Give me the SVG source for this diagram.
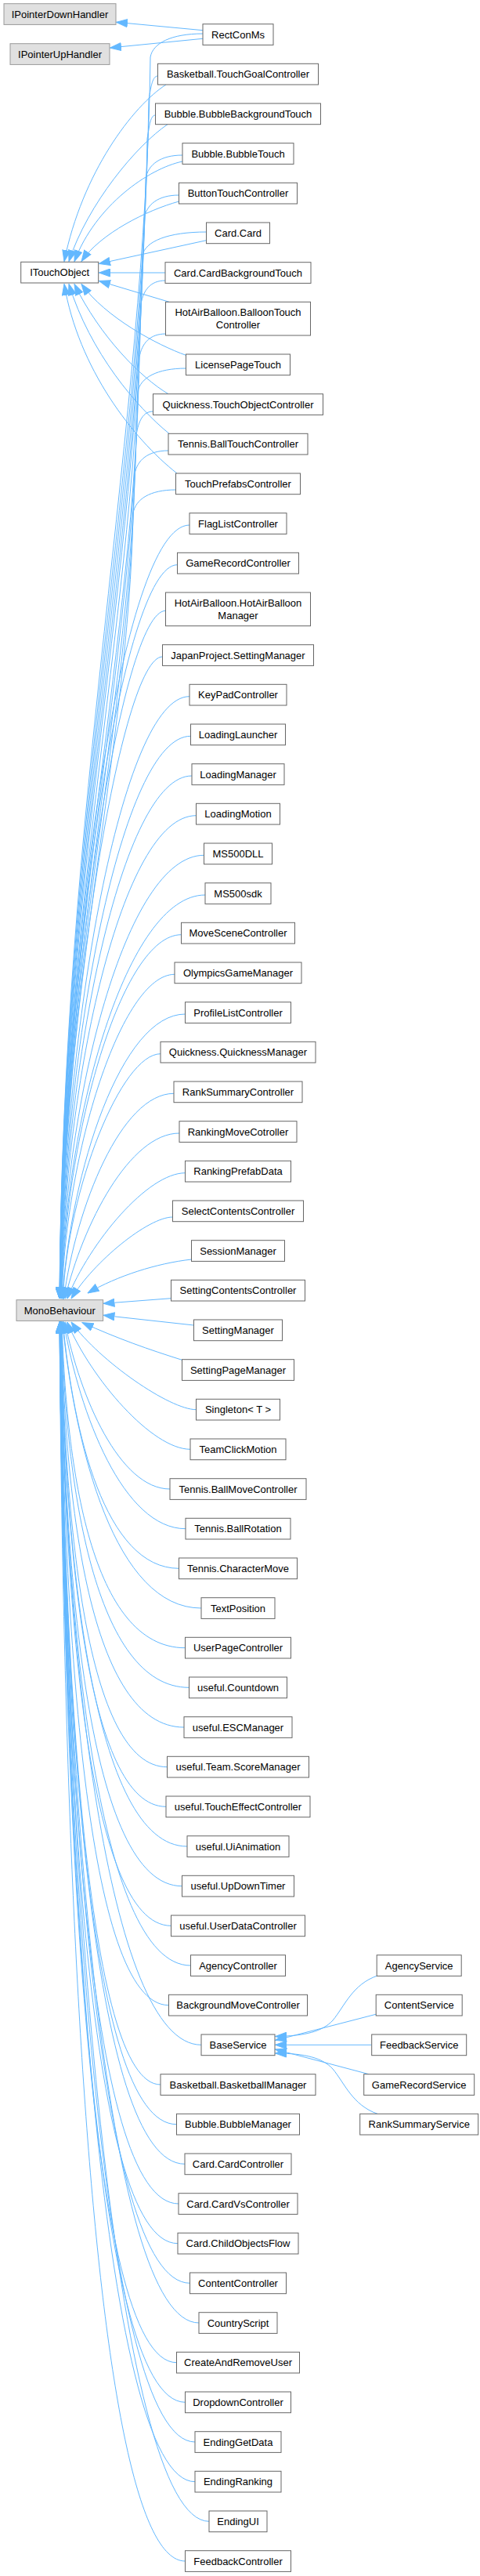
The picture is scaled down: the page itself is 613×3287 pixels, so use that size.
<svg xmlns="http://www.w3.org/2000/svg" width="613" height="3287" viewBox="0 0 613 3287">
<style>
.n rect{fill:#ffffff;stroke:#666666;stroke-width:1}
.x rect{fill:#e0e0e0;stroke:#999999;stroke-width:1}
text{font-family:"Liberation Sans",Arial,Helvetica,sans-serif;font-size:13px;text-anchor:middle;fill:#000000}
#edges path{fill:none;stroke:#63b8ff;stroke-width:1;marker-end:url(#ah)}
</style>
<defs>
<marker id="ah" viewBox="0 0 15 11" refX="14.5" refY="5.5" markerWidth="15" markerHeight="11" markerUnits="userSpaceOnUse" orient="auto">
<path d="M0.5,0.5 L14.5,5.5 L0.5,10.5 Z" fill="#63b8ff" stroke="#63b8ff" stroke-width="1"/>
</marker>
</defs>
<rect x="0" y="0" width="613" height="3287" fill="#ffffff"/>
<g id="edges">
<path d="M259,38.7 L148.5,28.3"/>
<path d="M259,49.3 L140.5,61"/>
<path d="M259,43 C218.8,43 195,55 192,73 C186,548 80,1023 76,1657"/>
<path d="M201.5,97 C194.9,97 193,109 190,127 C184,586 80,1045 76,1657"/>
<path d="M198.5,147 C192.2,147 191,159 188,177 C182,621 80,1065 76.1,1657"/>
<path d="M233,198 C204.8,198 189,210 186,228 C180,657 80,1085 76.2,1657"/>
<path d="M228.5,249 C201.8,249 187,261 184,279 C178,692 80,1106 76.2,1657"/>
<path d="M263.5,296 C214.4,296 185,308 182,326 C176,725 80,1125 76.2,1657"/>
<path d="M211,358 C192.4,358 183,370 180,388 C174,769 80,1149 76.3,1657"/>
<path d="M211.5,426 C191.4,426 181,438 178,456 C172,816 80,1177 76.3,1657"/>
<path d="M237.5,470 C200.6,470 179,482 176,500 C170,847 80,1194 76.4,1657"/>
<path d="M195.5,525 C182.6,525 177,537 174,555 C168,886 80,1216 76.5,1657"/>
<path d="M215,575 C189.2,575 175,587 172,605 C166,921 80,1236 76.5,1657"/>
<path d="M224.5,625 C191.3,625 173,637 170,655 C164,956 80,1256 76.6,1657"/>
<path d="M212,108 C170,135 105,220 82,333.5"/>
<path d="M214,158.7 C175,185 112,260 88,333.5"/>
<path d="M233,206 C190,215 122,262 95,333.5"/>
<path d="M228.5,257 C188,268 128,298 104,333.5"/>
<path d="M263.5,306.7 L126.5,336.5"/>
<path d="M211,348 L126.5,348"/>
<path d="M216,385.3 L126.5,358.5"/>
<path d="M238,453.5 C200,440 135,405 104,362.5"/>
<path d="M215,502.7 C180,482 128,430 95,362.5"/>
<path d="M216,553.3 C175,520 115,450 88,362.5"/>
<path d="M226,604 C170,560 100,470 82,362.5"/>
<path d="M242,670 C155,670 81.7,1213 76.7,1657"/>
<path d="M226.5,720.7 C155,720.7 81.8,1236 76.8,1657"/>
<path d="M211.5,779.3 C155,779.3 81.9,1262 76.9,1657"/>
<path d="M207.5,838 C155,838 82,1288 77,1657"/>
<path d="M242,888.7 C155,888.7 82.1,1311 77.1,1657"/>
<path d="M243.5,939.3 C155,939.3 82.3,1334 77.3,1657"/>
<path d="M245,990 C155,990 82.5,1357 77.5,1657"/>
<path d="M250.5,1040.7 C155,1040.7 82.7,1380 77.7,1657"/>
<path d="M260.5,1091.3 C160.5,1091.3 82.9,1402 77.9,1657"/>
<path d="M262,1142 C162,1142 83.2,1425 78.2,1657"/>
<path d="M231.5,1192.7 C155,1192.7 83.6,1448 78.6,1657"/>
<path d="M223,1243.3 C155,1243.3 84,1471 79,1657"/>
<path d="M236.5,1294 C155,1294 90.3,1494 79.6,1657"/>
<path d="M205,1344.7 C155,1344.7 86.5,1516 80.3,1657"/>
<path d="M222,1395.3 C155,1395.3 97.4,1539 81.4,1657"/>
<path d="M229,1446 C165.7,1446 105.7,1562 83,1657"/>
<path d="M236.5,1496.7 C188.5,1496.7 114.9,1585 85.7,1657"/>
<path d="M220.5,1553 C189.3,1553 119.5,1610 91,1657"/>
<path d="M244.5,1607 C200,1612 150,1628 112,1650"/>
<path d="M218.5,1656.7 L132,1663.3"/>
<path d="M247.5,1691 L132,1678.3"/>
<path d="M233,1735.5 C190,1722 150,1708 105,1687.5"/>
<path d="M250.5,1798.7 C217,1798.7 127.7,1737.3 91,1687"/>
<path d="M243,1849.3 C194.3,1849.3 116.7,1760 85.7,1687"/>
<path d="M217,1900 C153.1,1900 101.9,1783 83,1687"/>
<path d="M237,1950.7 C157.9,1950.7 101.7,1805.7 81.4,1687"/>
<path d="M228.5,2001.3 C134.2,2001.3 93.3,1828.4 80.3,1687"/>
<path d="M257,2052 C147.5,2052 96.3,1851.3 79.6,1687"/>
<path d="M236.5,2102.7 C116.5,2102.7 84.7,1874 79,1687"/>
<path d="M241.5,2153.3 C121.5,2153.3 83.6,1896.8 78.6,1687"/>
<path d="M235,2204 C115,2204 83.2,1919.7 78.2,1687"/>
<path d="M213.5,2254.7 C110,2254.7 82.9,1942.5 77.9,1687"/>
<path d="M212,2305.3 C110,2305.3 82.7,1965.2 77.7,1687"/>
<path d="M239,2356 C119,2356 82.5,1988 77.5,1687"/>
<path d="M232.5,2406.7 C112.5,2406.7 82.3,2010.9 77.3,1687"/>
<path d="M218.5,2457.3 C110,2457.3 82.1,2033.6 77.1,1687"/>
<path d="M243.5,2508 C123.5,2508 82,2056.5 77,1687"/>
<path d="M215.5,2558.7 C110,2558.7 81.9,2079.3 76.9,1687"/>
<path d="M257,2609.3 C137,2609.3 81.8,2102 76.8,1687"/>
<path d="M205,2660 C110,2660 81.7,2124.9 76.7,1687"/>
<path d="M225.5,2710.7 C110,2710.7 81.6,2147.7 76.6,1687"/>
<path d="M236,2761.3 C116,2761.3 81.5,2170.4 76.5,1687"/>
<path d="M228,2812 C110,2812 81.5,2193 76.5,1687"/>
<path d="M227,2862.7 C110,2862.7 81.4,2216 76.4,1687"/>
<path d="M242.5,2913.3 C122.5,2913.3 81.3,2238.8 76.3,1687"/>
<path d="M254,2964 C134,2964 81.3,2261.7 76.3,1687"/>
<path d="M225.5,3014.7 C110,3014.7 81.2,2284.5 76.2,1687"/>
<path d="M236.5,3065.3 C116.5,3065.3 81.2,2307 76.2,1687"/>
<path d="M249,3116 C129,3116 81.1,2330 76.1,1687"/>
<path d="M249,3166.7 C129,3166.7 81.1,2352.9 76.1,1687"/>
<path d="M267,3217.3 C147,3217.3 81.1,2375.6 76.1,1687"/>
<path d="M236.5,3268 C116.5,3268 81,2398.5 76,1687"/>
<path d="M482,2521 C450,2532 440,2560 425,2578 C412,2592 390,2598 351.5,2598.5"/>
<path d="M481,2570 L351.5,2603.5"/>
<path d="M474.6,2609.3 L351.5,2609.3"/>
<path d="M471,2646.7 L351.5,2615"/>
<path d="M482,2697.3 C450,2686 440,2658 425,2640 C412,2626 390,2620 351.5,2620"/>
</g>
<g id="IPointerDownHandler" class="x"><rect x="5" y="4.7" width="143" height="26.7"/><text x="76.5" y="22.7">IPointerDownHandler</text></g>
<g id="IPointerUpHandler" class="x"><rect x="13" y="55.7" width="127" height="26.7"/><text x="76.5" y="73.7">IPointerUpHandler</text></g>
<g id="ITouchObject" class="n"><rect x="26.7" y="334.3" width="99" height="26.7"/><text x="76.2" y="352.3">ITouchObject</text></g>
<g id="MonoBehaviour" class="x"><rect x="21" y="1658.7" width="110.6" height="26.7"/><text x="76.3" y="1676.7">MonoBehaviour</text></g>
<g id="n1" class="n" transform="translate(304,30.7)"><rect x="-45" y="0" width="90" height="26.7"/><text x="0" y="18">RectConMs</text></g>
<g id="n2" class="n" transform="translate(304,81.3)"><rect x="-102.5" y="0" width="205" height="26.7"/><text x="0" y="18">Basketball.TouchGoalController</text></g>
<g id="n3" class="n" transform="translate(304,132)"><rect x="-105.5" y="0" width="211" height="26.7"/><text x="0" y="18">Bubble.BubbleBackgroundTouch</text></g>
<g id="n4" class="n" transform="translate(304,182.7)"><rect x="-71" y="0" width="142" height="26.7"/><text x="0" y="18">Bubble.BubbleTouch</text></g>
<g id="n5" class="n" transform="translate(304,233.3)"><rect x="-75.5" y="0" width="151" height="26.7"/><text x="0" y="18">ButtonTouchController</text></g>
<g id="n6" class="n" transform="translate(304,284)"><rect x="-40.5" y="0" width="81" height="26.7"/><text x="0" y="18">Card.Card</text></g>
<g id="n7" class="n" transform="translate(304,334.7)"><rect x="-93" y="0" width="186" height="26.7"/><text x="0" y="18">Card.CardBackgroundTouch</text></g>
<g id="n8" class="n" transform="translate(304,385.3)"><rect x="-92.5" y="0" width="185" height="42.7"/><text x="0" y="17.5">HotAirBalloon.BalloonTouch</text><text x="0" y="33.5">Controller</text></g>
<g id="n9" class="n" transform="translate(304,452)"><rect x="-66.5" y="0" width="133" height="26.7"/><text x="0" y="18">LicensePageTouch</text></g>
<g id="n10" class="n" transform="translate(304,502.7)"><rect x="-108.5" y="0" width="217" height="26.7"/><text x="0" y="18">Quickness.TouchObjectController</text></g>
<g id="n11" class="n" transform="translate(304,553.3)"><rect x="-89" y="0" width="178" height="26.7"/><text x="0" y="18">Tennis.BallTouchController</text></g>
<g id="n12" class="n" transform="translate(304,604)"><rect x="-79.5" y="0" width="159" height="26.7"/><text x="0" y="18">TouchPrefabsController</text></g>
<g id="n13" class="n" transform="translate(304,654.7)"><rect x="-62" y="0" width="124" height="26.7"/><text x="0" y="18">FlagListController</text></g>
<g id="n14" class="n" transform="translate(304,705.3)"><rect x="-77.5" y="0" width="155" height="26.7"/><text x="0" y="18">GameRecordController</text></g>
<g id="n15" class="n" transform="translate(304,756)"><rect x="-92.5" y="0" width="185" height="42.7"/><text x="0" y="17.5">HotAirBalloon.HotAirBalloon</text><text x="0" y="33.5">Manager</text></g>
<g id="n16" class="n" transform="translate(304,822.7)"><rect x="-96.5" y="0" width="193" height="26.7"/><text x="0" y="18">JapanProject.SettingManager</text></g>
<g id="n17" class="n" transform="translate(304,873.3)"><rect x="-62" y="0" width="124" height="26.7"/><text x="0" y="18">KeyPadController</text></g>
<g id="n18" class="n" transform="translate(304,924)"><rect x="-60.5" y="0" width="121" height="26.7"/><text x="0" y="18">LoadingLauncher</text></g>
<g id="n19" class="n" transform="translate(304,974.7)"><rect x="-59" y="0" width="118" height="26.7"/><text x="0" y="18">LoadingManager</text></g>
<g id="n20" class="n" transform="translate(304,1025.3)"><rect x="-53.5" y="0" width="107" height="26.7"/><text x="0" y="18">LoadingMotion</text></g>
<g id="n21" class="n" transform="translate(304,1076)"><rect x="-43.5" y="0" width="87" height="26.7"/><text x="0" y="18">MS500DLL</text></g>
<g id="n22" class="n" transform="translate(304,1126.7)"><rect x="-42" y="0" width="84" height="26.7"/><text x="0" y="18">MS500sdk</text></g>
<g id="n23" class="n" transform="translate(304,1177.3)"><rect x="-72.5" y="0" width="145" height="26.7"/><text x="0" y="18">MoveSceneController</text></g>
<g id="n24" class="n" transform="translate(304,1228)"><rect x="-81" y="0" width="162" height="26.7"/><text x="0" y="18">OlympicsGameManager</text></g>
<g id="n25" class="n" transform="translate(304,1278.7)"><rect x="-67.5" y="0" width="135" height="26.7"/><text x="0" y="18">ProfileListController</text></g>
<g id="n26" class="n" transform="translate(304,1329.3)"><rect x="-99" y="0" width="198" height="26.7"/><text x="0" y="18">Quickness.QuicknessManager</text></g>
<g id="n27" class="n" transform="translate(304,1380)"><rect x="-82" y="0" width="164" height="26.7"/><text x="0" y="18">RankSummaryController</text></g>
<g id="n28" class="n" transform="translate(304,1430.7)"><rect x="-75" y="0" width="150" height="26.7"/><text x="0" y="18">RankingMoveCotroller</text></g>
<g id="n29" class="n" transform="translate(304,1481.3)"><rect x="-67.5" y="0" width="135" height="26.7"/><text x="0" y="18">RankingPrefabData</text></g>
<g id="n30" class="n" transform="translate(304,1532)"><rect x="-83.5" y="0" width="167" height="26.7"/><text x="0" y="18">SelectContentsController</text></g>
<g id="n31" class="n" transform="translate(304,1582.7)"><rect x="-59.5" y="0" width="119" height="26.7"/><text x="0" y="18">SessionManager</text></g>
<g id="n32" class="n" transform="translate(304,1633.3)"><rect x="-85.5" y="0" width="171" height="26.7"/><text x="0" y="18">SettingContentsController</text></g>
<g id="n33" class="n" transform="translate(304,1684)"><rect x="-56.5" y="0" width="113" height="26.7"/><text x="0" y="18">SettingManager</text></g>
<g id="n34" class="n" transform="translate(304,1734.7)"><rect x="-71.5" y="0" width="143" height="26.7"/><text x="0" y="18">SettingPageManager</text></g>
<g id="n35" class="n" transform="translate(304,1785.3)"><rect x="-53.5" y="0" width="107" height="26.7"/><text x="0" y="18">Singleton&lt; T &gt;</text></g>
<g id="n36" class="n" transform="translate(304,1836)"><rect x="-61" y="0" width="122" height="26.7"/><text x="0" y="18">TeamClickMotion</text></g>
<g id="n37" class="n" transform="translate(304,1886.7)"><rect x="-87" y="0" width="174" height="26.7"/><text x="0" y="18">Tennis.BallMoveController</text></g>
<g id="n38" class="n" transform="translate(304,1937.3)"><rect x="-67" y="0" width="134" height="26.7"/><text x="0" y="18">Tennis.BallRotation</text></g>
<g id="n39" class="n" transform="translate(304,1988)"><rect x="-75.5" y="0" width="151" height="26.7"/><text x="0" y="18">Tennis.CharacterMove</text></g>
<g id="n40" class="n" transform="translate(304,2038.7)"><rect x="-47" y="0" width="94" height="26.7"/><text x="0" y="18">TextPosition</text></g>
<g id="n41" class="n" transform="translate(304,2089.3)"><rect x="-67.5" y="0" width="135" height="26.7"/><text x="0" y="18">UserPageController</text></g>
<g id="n42" class="n" transform="translate(304,2140)"><rect x="-62.5" y="0" width="125" height="26.7"/><text x="0" y="18">useful.Countdown</text></g>
<g id="n43" class="n" transform="translate(304,2190.7)"><rect x="-69" y="0" width="138" height="26.7"/><text x="0" y="18">useful.ESCManager</text></g>
<g id="n44" class="n" transform="translate(304,2241.3)"><rect x="-90.5" y="0" width="181" height="26.7"/><text x="0" y="18">useful.Team.ScoreManager</text></g>
<g id="n45" class="n" transform="translate(304,2292)"><rect x="-92" y="0" width="184" height="26.7"/><text x="0" y="18">useful.TouchEffectController</text></g>
<g id="n46" class="n" transform="translate(304,2342.7)"><rect x="-65" y="0" width="130" height="26.7"/><text x="0" y="18">useful.UiAnimation</text></g>
<g id="n47" class="n" transform="translate(304,2393.3)"><rect x="-71.5" y="0" width="143" height="26.7"/><text x="0" y="18">useful.UpDownTimer</text></g>
<g id="n48" class="n" transform="translate(304,2444)"><rect x="-85.5" y="0" width="171" height="26.7"/><text x="0" y="18">useful.UserDataController</text></g>
<g id="n49" class="n" transform="translate(304,2494.7)"><rect x="-60.5" y="0" width="121" height="26.7"/><text x="0" y="18">AgencyController</text></g>
<g id="n50" class="n" transform="translate(304,2545.3)"><rect x="-88.5" y="0" width="177" height="26.7"/><text x="0" y="18">BackgroundMoveController</text></g>
<g id="n51" class="n" transform="translate(304,2596)"><rect x="-47" y="0" width="94" height="26.7"/><text x="0" y="18">BaseService</text></g>
<g id="n52" class="n" transform="translate(304,2646.7)"><rect x="-99" y="0" width="198" height="26.7"/><text x="0" y="18">Basketball.BasketballManager</text></g>
<g id="n53" class="n" transform="translate(304,2697.3)"><rect x="-78.5" y="0" width="157" height="26.7"/><text x="0" y="18">Bubble.BubbleManager</text></g>
<g id="n54" class="n" transform="translate(304,2748)"><rect x="-68" y="0" width="136" height="26.7"/><text x="0" y="18">Card.CardController</text></g>
<g id="n55" class="n" transform="translate(304,2798.7)"><rect x="-76" y="0" width="152" height="26.7"/><text x="0" y="18">Card.CardVsController</text></g>
<g id="n56" class="n" transform="translate(304,2849.3)"><rect x="-77" y="0" width="154" height="26.7"/><text x="0" y="18">Card.ChildObjectsFlow</text></g>
<g id="n57" class="n" transform="translate(304,2900)"><rect x="-61.5" y="0" width="123" height="26.7"/><text x="0" y="18">ContentController</text></g>
<g id="n58" class="n" transform="translate(304,2950.7)"><rect x="-50" y="0" width="100" height="26.7"/><text x="0" y="18">CountryScript</text></g>
<g id="n59" class="n" transform="translate(304,3001.3)"><rect x="-78.5" y="0" width="157" height="26.7"/><text x="0" y="18">CreateAndRemoveUser</text></g>
<g id="n60" class="n" transform="translate(304,3052)"><rect x="-67.5" y="0" width="135" height="26.7"/><text x="0" y="18">DropdownController</text></g>
<g id="n61" class="n" transform="translate(304,3102.7)"><rect x="-55" y="0" width="110" height="26.7"/><text x="0" y="18">EndingGetData</text></g>
<g id="n62" class="n" transform="translate(304,3153.3)"><rect x="-55" y="0" width="110" height="26.7"/><text x="0" y="18">EndingRanking</text></g>
<g id="n63" class="n" transform="translate(304,3204)"><rect x="-37" y="0" width="74" height="26.7"/><text x="0" y="18">EndingUI</text></g>
<g id="n64" class="n" transform="translate(304,3254.7)"><rect x="-67.5" y="0" width="135" height="26.7"/><text x="0" y="18">FeedbackController</text></g>
<g id="s1" class="n" transform="translate(535.2,2494.7)"><rect x="-54" y="0" width="108" height="26.7"/><text x="0" y="18">AgencyService</text></g>
<g id="s2" class="n" transform="translate(535.2,2545.3)"><rect x="-55" y="0" width="110" height="26.7"/><text x="0" y="18">ContentService</text></g>
<g id="s3" class="n" transform="translate(535.2,2596)"><rect x="-60.5" y="0" width="121" height="26.7"/><text x="0" y="18">FeedbackService</text></g>
<g id="s4" class="n" transform="translate(535.2,2646.7)"><rect x="-70.5" y="0" width="141" height="26.7"/><text x="0" y="18">GameRecordService</text></g>
<g id="s5" class="n" transform="translate(535.2,2697.3)"><rect x="-75.5" y="0" width="151" height="26.7"/><text x="0" y="18">RankSummaryService</text></g>
</svg>
